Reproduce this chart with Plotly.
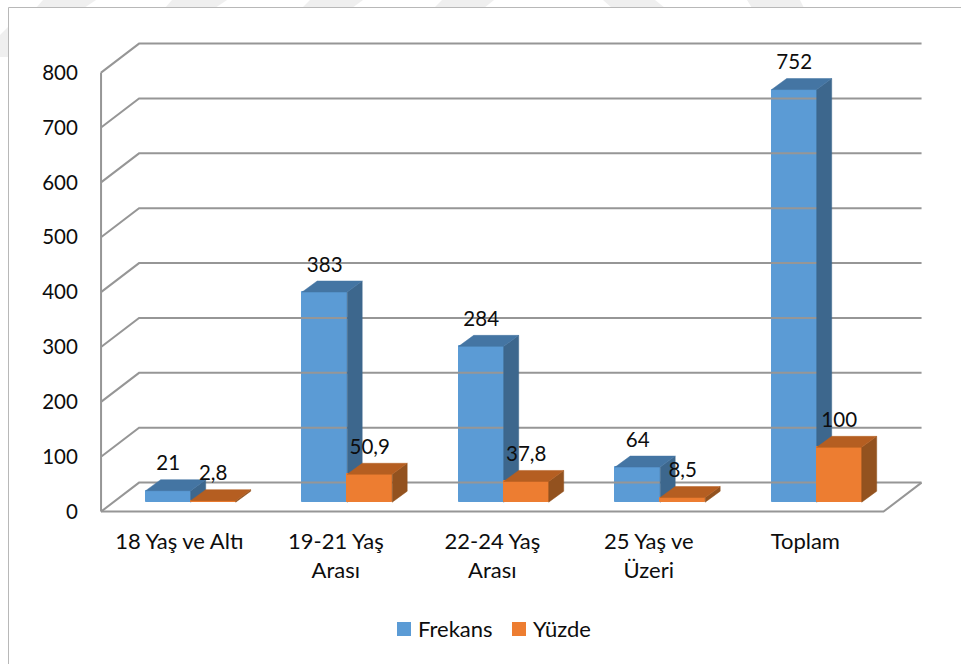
import plotly.graph_objects as go

# Chart data
categories = ["18 Yaş ve Altı", "19-21 Yaş", "22-24 Yaş", "25 Yaş ve", "Toplam"]
categories_line2 = ["", "Arası", "Arası", "Üzeri", ""]
frekans = [21, 383, 284, 64, 752]
yuzde = [2.8, 50.9, 37.8, 8.5, 100]
y_ticks = [0, 100, 200, 300, 400, 500, 600, 700, 800]

FONT = "Lato"
TEXT = "#0d0d0d"
GRID = "#969696"
BLUE, ORANGE = "#5B9BD5", "#ED7D31"

# Page geometry
W, H = 961, 664
L, R, T, B = 90, 930, 40, 520
PX_X = 156.5          # pixels per category
PX_Y = 0.54875        # pixels per value unit
X0 = 179.3            # pixel position of the first category
Y0 = 511.6            # pixel position of value 0

x_range = [(L - X0) / PX_X, (R - X0) / PX_X]
y_range = [(Y0 - B) / PX_Y, (Y0 - T) / PX_Y]

# Oblique projection offsets, expressed in axis units
WALL_DX, WALL_DY = 38 / PX_X, 29 / PX_Y
BAR_DX, BAR_DY = 15 / PX_X, 11 / PX_Y
FRONT_DX, FRONT_DY = 11.4 / PX_X, 9.4 / PX_Y
BAR_W = 45 / PX_X
LABEL_GAP = 25.5 / PX_Y


def px(x):
    return (x - L) / (R - L)


def py(y):
    return (B - y) / (B - T)


fig = go.Figure()


def wall_line(xs, ys):
    fig.add_trace(go.Scatter(x=xs, y=ys, mode="lines", showlegend=False, hoverinfo="skip",
                             line=dict(color=GRID, width=2), xaxis="x", yaxis="y"))


x_left, x_right = -0.5, 4.5
for v in y_ticks:
    wall_line([x_left, x_left + WALL_DX, x_right + WALL_DX], [v, v + WALL_DY, v + WALL_DY])
wall_line([x_left, x_left], [0, y_ticks[-1]])
wall_line([x_left, x_right, x_right + WALL_DX], [0, 0, WALL_DY])


def add_series(values, name, shift, front, side, top, xa, ya):
    xs = [i + FRONT_DX + shift * BAR_W for i in range(len(values))]
    fig.add_trace(go.Bar(x=xs, y=values, base=FRONT_DY, width=BAR_W, name=name,
                         marker=dict(color=front, line=dict(color=front, width=1)),
                         xaxis=xa, yaxis=ya, hoverinfo="skip", showlegend=False))
    for xc, v in zip(xs, values):
        xa0, xa1 = xc - BAR_W / 2, xc + BAR_W / 2
        y0, y1 = FRONT_DY, FRONT_DY + v
        fig.add_trace(go.Scatter(
            x=[xa1, xa1 + BAR_DX, xa1 + BAR_DX, xa1, xa1],
            y=[y0, y0 + BAR_DY, y1 + BAR_DY, y1, y0],
            mode="lines", fill="toself", fillcolor=side, line=dict(color=side, width=0.5),
            showlegend=False, hoverinfo="skip", xaxis=xa, yaxis=ya))
        fig.add_trace(go.Scatter(
            x=[xa0, xa0 + BAR_DX, xa1 + BAR_DX, xa1, xa0],
            y=[y1, y1 + BAR_DY, y1 + BAR_DY, y1, y1],
            mode="lines", fill="toself", fillcolor=top, line=dict(color=top, width=0.5),
            showlegend=False, hoverinfo="skip", xaxis=xa, yaxis=ya))
    fig.add_trace(go.Scatter(
        x=xs, y=[FRONT_DY + v + LABEL_GAP for v in values],
        text=[str(v).replace(".", ",") for v in values],
        mode="text", textposition="middle center",
        textfont=dict(family=FONT, size=20.5, color=TEXT),
        showlegend=False, hoverinfo="skip", xaxis="x2", yaxis="y2"))


add_series(frekans, "Frekans", -0.5, BLUE, "#3D678D", "#4475A3", "x", "y")
add_series(yuzde, "Yüzde", 0.5, ORANGE, "#93521F", "#B55E21", "x2", "y2")


def polygon(points, fill):
    path = "M" + " L".join(f"{px(a):.5f},{py(b):.5f}" for a, b in points) + " Z"
    return dict(type="path", path=path, xref="paper", yref="paper", layer="below",
                fillcolor=fill, line=dict(width=0))


# Faint diagonal bands in the page margin, then the chart frame over them
BAND = "#efefef"
shapes = [
    polygon([(43, 0), (96, 0), (84, 8), (36, 8)], BAND),
    polygon([(172, 0), (227, 0), (215, 8), (165, 8)], BAND),
    polygon([(310, 0), (363, 0), (352, 8), (302, 8)], BAND),
    polygon([(442, 0), (494, 0), (484, 8), (434, 8)], BAND),
    polygon([(603, 0), (655, 0), (665, 8), (612, 8)], BAND),
    polygon([(747, 0), (800, 0), (804, 8), (752, 8)], BAND),
    polygon([(0, 35), (8, 27), (8, 57), (0, 57)], BAND),
    dict(type="rect", xref="paper", yref="paper", layer="below",
         x0=px(8.5), x1=px(975), y0=py(7.5), y1=py(680),
         fillcolor="white", line=dict(color="#b8b8b8", width=1)),
]

# Legend row: square swatch followed by the series name
annotations = []
for name, color, sx, tx in [("Frekans", BLUE, 397, 417), ("Yüzde", ORANGE, 512, 532)]:
    shapes.append(dict(type="rect", xref="paper", yref="paper", layer="above",
                       x0=px(sx), x1=px(sx + 14), y0=py(622), y1=py(636),
                       fillcolor=color, line=dict(width=0)))
    annotations.append(dict(text=name, xref="paper", yref="paper", x=px(tx), y=py(628),
                            xanchor="left", yanchor="middle", showarrow=False,
                            xshift=-1, font=dict(family=FONT, size=22, color=TEXT)))

fig.update_layout(
    width=W, height=H, autosize=False,
    margin=dict(l=L, r=W - R, t=T, b=H - B),
    paper_bgcolor="white", plot_bgcolor="rgba(0,0,0,0)",
    barmode="overlay", bargap=0, showlegend=False,
    font=dict(family=FONT, size=20, color=TEXT),
    xaxis=dict(range=x_range, tickmode="array", tickvals=list(range(5)),
               ticktext=[a if not b else f"{a}<br>{b}" for a, b in zip(categories, categories_line2)],
               showgrid=False, zeroline=False, showline=False,
               ticks="outside", ticklen=2, tickcolor="rgba(0,0,0,0)",
               tickfont=dict(family=FONT, size=22, color=TEXT)),
    yaxis=dict(range=y_range, tickmode="array", tickvals=y_ticks,
               showgrid=False, zeroline=False, showline=False,
               ticks="outside", ticklen=7, tickcolor="rgba(0,0,0,0)",
               tickfont=dict(family=FONT, size=20.5, color=TEXT)),
    xaxis2=dict(range=x_range, overlaying="x", visible=False),
    yaxis2=dict(range=y_range, overlaying="y", visible=False),
    shapes=shapes,
    annotations=annotations,
)

fig.write_html("out.html")
